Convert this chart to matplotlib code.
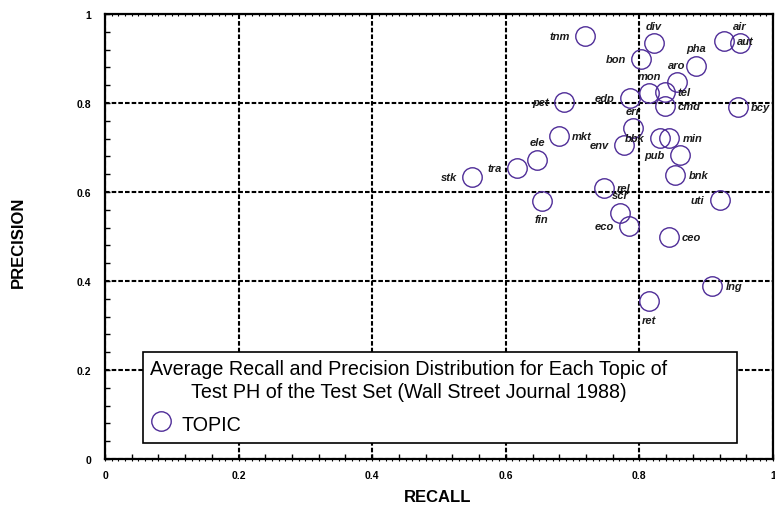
"""Average recall / precision scatter for each WSJ 1988 topic."""

import matplotlib

matplotlib.use("Agg")
import matplotlib.pyplot as plt
from matplotlib.lines import Line2D
from matplotlib.ticker import MultipleLocator

plt.rcParams["font.family"] = "Liberation Sans"

TOPICS = ["tnm", "div", "bon", "pha", "aro", "aut", "air", "mon", "tel", "cmd",
          "edp", "pet", "bcy", "err", "mkt", "env", "bbk", "min", "pub", "ele",
          "tra", "stk", "bnk", "rel", "scr", "fin", "uti", "eco", "ceo", "lng", "ret"]
RECALL = [0.719, 0.822, 0.803, 0.885, 0.856, 0.926, 0.950, 0.815, 0.838, 0.838,
          0.786, 0.687, 0.947, 0.791, 0.679, 0.777, 0.831, 0.845, 0.861, 0.647,
          0.617, 0.550, 0.854, 0.747, 0.771, 0.654, 0.920, 0.785, 0.844, 0.909, 0.815]
PRECISION = [0.951, 0.934, 0.899, 0.884, 0.847, 0.940, 0.934, 0.822, 0.824, 0.794,
             0.811, 0.803, 0.790, 0.744, 0.727, 0.706, 0.721, 0.721, 0.683, 0.673,
             0.654, 0.634, 0.638, 0.608, 0.554, 0.579, 0.582, 0.524, 0.499, 0.389, 0.354]

TICKS = [0, 0.2, 0.4, 0.6, 0.8, 1]
TICK_LABELS = ["0", "0.2", "0.4", "0.6", "0.8", "1"]

LEGEND_TITLE = ("Average Recall and Precision Distribution for Each Topic of\n"
                "Test PH of the Test Set (Wall Street Journal 1988)")

# where each label sits relative to its circle
LABEL_SIDE = {
    "tnm": "l", "div": "a", "bon": "l", "pha": "a", "aro": "a", "aut": "r",
    "air": "a", "mon": "a", "tel": "r", "cmd": "r", "edp": "l", "pet": "l",
    "bcy": "r", "err": "a", "mkt": "r", "env": "l", "bbk": "l", "min": "r",
    "pub": "l", "ele": "a", "tra": "l", "stk": "l", "bnk": "r", "rel": "r",
    "scr": "a", "fin": "b", "uti": "l", "eco": "l", "ceo": "r", "lng": "r",
    "ret": "b",
}
SIDE_STYLE = {
    "l": ((-11, 0), "right", "center"),
    "r": ((9.5, 0), "left", "center"),
    "a": ((0, 12.5), "center", "center"),
    "b": ((0, -13), "center", "center"),
}

EDGE = "#4f2d98"


def main() -> None:
    fig = plt.figure(figsize=(7.75, 5.1), dpi=100)
    ax = fig.add_axes([0.1355, 0.098, 0.8619, 0.8725])

    ax.set_xlim(0, 1)
    ax.set_ylim(0, 1)
    ax.set_xticks(TICKS, TICK_LABELS)
    ax.set_yticks(TICKS, TICK_LABELS)
    ax.xaxis.set_minor_locator(MultipleLocator(0.04))
    ax.yaxis.set_minor_locator(MultipleLocator(0.04))
    ax.tick_params(which="both", direction="in", length=3.6, width=1, color="black")
    ax.tick_params(axis="x", which="major", pad=8, labelsize=7.5)
    ax.tick_params(axis="y", which="major", pad=10, labelsize=7.5)
    for lab in ax.get_xticklabels() + ax.get_yticklabels():
        lab.set_fontweight("bold")

    # tiny ticks along top and bottom edges
    for side in ("top", "bottom"):
        sec = ax.secondary_xaxis(side)
        sec.xaxis.set_major_locator(MultipleLocator(0.01))
        sec.tick_params(length=1.5, width=0.8, direction="in" if side == "top" else "out",
                        labeltop=False, labelbottom=False)
        sec.spines[side].set_visible(False)

    for sp in ax.spines.values():
        sp.set_linewidth(1.6)
        sp.set_zorder(6)

    ax.grid(True, which="major", color="black", lw=1.5, ls=(0, (2.2, 1)))
    ax.set_axisbelow(True)

    ax.plot(RECALL, PRECISION, ls="none", marker="o", ms=14, mfc="none",
            mec=EDGE, mew=1.0, zorder=3)
    for name, x, y in zip(TOPICS, RECALL, PRECISION):
        offset, ha, va = SIDE_STYLE[LABEL_SIDE[name]]
        ax.annotate(name, (x, y), xytext=offset, textcoords="offset points",
                    ha=ha, va=va, fontsize=8, fontweight="bold", fontstyle="italic",
                    color="#1a1a1a", zorder=4)

    ax.set_xlabel("RECALL", fontsize=12, fontweight="bold")
    ax.set_ylabel("PRECISION", fontsize=12, fontweight="bold")
    ax.xaxis.label.set_va("center")
    ax.yaxis.label.set_va("center")
    ax.xaxis.set_label_coords(0.498, -0.085)
    ax.yaxis.set_label_coords(-0.129, 0.49)

    handle = Line2D([], [], ls="none", marker="o", ms=14, mfc="none", mec=EDGE, mew=1.0)
    leg = ax.legend([handle], ["TOPIC"], title=LEGEND_TITLE, loc="upper left",
                    bbox_to_anchor=(0.0569, 0.036, 0.889, 0.2044), mode="expand",
                    alignment="left", frameon=True, fancybox=False, framealpha=1,
                    edgecolor="black", prop={"size": 14.2}, title_fontsize=14.2,
                    borderpad=0.35, handlelength=1.1, handletextpad=0.5,
                    handleheight=1.55, borderaxespad=0)
    leg.get_title().set_multialignment("center")
    leg.get_title().set_linespacing(1.3)
    leg.get_frame().set_linewidth(1.2)
    leg.set_zorder(5)

    fig.savefig("out.png", dpi=100)
    plt.close(fig)


if __name__ == "__main__":
    main()
